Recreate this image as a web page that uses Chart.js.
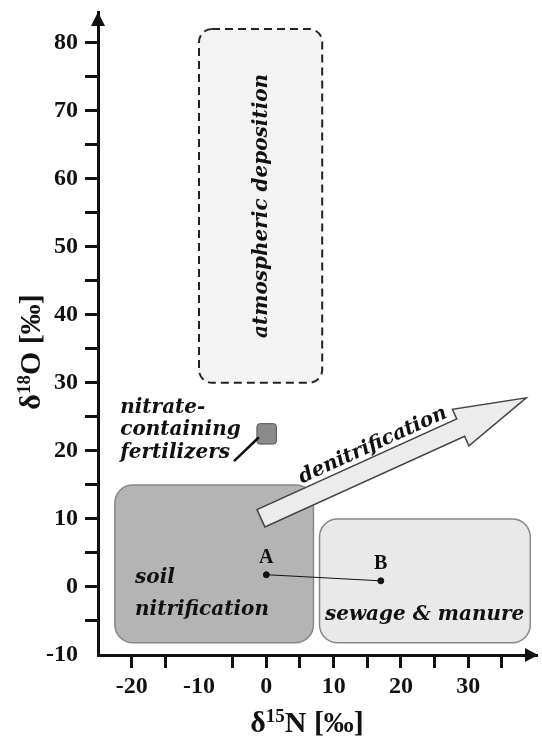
<!DOCTYPE html>
<html>
<head>
<meta charset="utf-8">
<script src="https://cdn.jsdelivr.net/npm/chart.js@4.4.0/dist/chart.umd.min.js"></script>
<style>
    html, body { margin: 0; padding: 0; background: #fff; }
    #wrap { width: 542px; height: 736px; }
</style>
</head>
<body>
<div id="wrap"><canvas id="chart"></canvas></div>
<script>
// Regiones de origen del nitrato (rangos de δ15N y δ18O, ‰)
const regionNames = ["atmospheric deposition", "soil nitrification", "sewage & manure", "nitrate-containing fertilizers"];
const regionX = [[-10, 8.3], [-22.5, 7], [7.9, 39.2], [-1.4, 1.5]];
const regionY = [[30, 82], [-8.2, 15], [-8.2, 10], [21, 24]];

// Muestras A y B
const sampleLabels = ["A", "B"];
const sampleX = [0, 17];
const sampleY = [1.8, 0.9];

// Flecha de desnitrificación (cola -> punta)
const arrowX = [-0.8, 38.6];
const arrowY = [10.1, 27.8];

// Línea que señala el cuadro de fertilizantes
const pointerX = [-1.1, -4.8];
const pointerY = [22, 18.5];

const xTicks = [-20, -15, -10, -5, 0, 5, 10, 15, 20, 25, 30, 35];
const yTicks = [-10, -5, 0, 5, 10, 15, 20, 25, 30, 35, 40, 45, 50, 55, 60, 65, 70, 75, 80];

// Estilos de cada región (mismo orden que regionNames)
const regionStyles = [
    { fill: "#f3f3f3", stroke: "#222", width: 2, dash: [8, 5], radius: 13 },
    { fill: "#b4b4b4", stroke: "#888", width: 1.5, dash: [], radius: 18 },
    { fill: "#e9e9e9", stroke: "#888", width: 1.5, dash: [], radius: 18 },
    { fill: "#8a8a8a", stroke: "#555", width: 1, dash: [], radius: 3 },
];

const serif = "'Liberation Serif', 'Times New Roman', serif";
const italicFont = "'DejaVu Serif', serif";

function roundRect(ctx, x0, y0, x1, y1, r) {
    ctx.beginPath();
    ctx.moveTo(x0 + r, y0);
    ctx.lineTo(x1 - r, y0);
    ctx.arcTo(x1, y0, x1, y0 + r, r);
    ctx.lineTo(x1, y1 - r);
    ctx.arcTo(x1, y1, x1 - r, y1, r);
    ctx.lineTo(x0 + r, y1);
    ctx.arcTo(x0, y1, x0, y1 - r, r);
    ctx.lineTo(x0, y0 + r);
    ctx.arcTo(x0, y0, x0 + r, y0, r);
    ctx.closePath();
}

// Texto con superíndice: "δ" + sup + resto
function drawSupText(ctx, pre, sup, post, size, supSize) {
    ctx.font = "bold " + size + "px " + serif;
    const w1 = ctx.measureText(pre).width;
    const w3 = ctx.measureText(post).width;
    ctx.font = "bold " + supSize + "px " + serif;
    const w2 = ctx.measureText(sup).width;
    let x = -(w1 + w2 + w3) / 2;
    ctx.textBaseline = "alphabetic";
    ctx.textAlign = "left";
    ctx.font = "bold " + size + "px " + serif;
    ctx.fillText(pre, x, 0);
    x += w1;
    ctx.font = "bold " + supSize + "px " + serif;
    ctx.fillText(sup, x, -size * 0.33);
    x += w2;
    ctx.font = "bold " + size + "px " + serif;
    ctx.fillText(post, x, 0);
}

const sketch = {
    id: "sketch",
    beforeDatasetsDraw(chart) {
        const { ctx, scales: { x, y } } = chart;
        ctx.save();

        // Cajas de las regiones
        regionNames.forEach((name, i) => {
            const s = regionStyles[i];
            const x0 = x.getPixelForValue(regionX[i][0]);
            const x1 = x.getPixelForValue(regionX[i][1]);
            const y0 = y.getPixelForValue(regionY[i][1]);
            const y1 = y.getPixelForValue(regionY[i][0]);
            roundRect(ctx, x0, y0, x1, y1, s.radius);
            ctx.fillStyle = s.fill;
            ctx.fill();
            ctx.setLineDash(s.dash);
            ctx.lineWidth = s.width;
            ctx.strokeStyle = s.stroke;
            ctx.stroke();
        });
        ctx.setLineDash([]);

        // Línea del cuadro de fertilizantes
        ctx.beginPath();
        ctx.moveTo(x.getPixelForValue(pointerX[0]), y.getPixelForValue(pointerY[0]));
        ctx.lineTo(x.getPixelForValue(pointerX[1]), y.getPixelForValue(pointerY[1]));
        ctx.lineWidth = 2.5;
        ctx.strokeStyle = "#111";
        ctx.stroke();

        // Flecha de desnitrificación
        const tx = x.getPixelForValue(arrowX[0]);
        const ty = y.getPixelForValue(arrowY[0]);
        const hx = x.getPixelForValue(arrowX[1]);
        const hy = y.getPixelForValue(arrowY[1]);
        const len = Math.hypot(hx - tx, hy - ty);
        const ux = (hx - tx) / len, uy = (hy - ty) / len;
        const nx = uy, ny = -ux; // normal hacia arriba
        const shaft = 9.5, head = 20, headLen = 72;
        const kx = hx - ux * headLen, ky = hy - uy * headLen;
        ctx.beginPath();
        ctx.moveTo(tx - nx * shaft, ty - ny * shaft);
        ctx.lineTo(tx + nx * shaft, ty + ny * shaft);
        ctx.lineTo(kx + nx * shaft, ky + ny * shaft);
        ctx.lineTo(kx + nx * head, ky + ny * head);
        ctx.lineTo(hx, hy);
        ctx.lineTo(kx - nx * head, ky - ny * head);
        ctx.lineTo(kx - nx * shaft, ky - ny * shaft);
        ctx.closePath();
        ctx.fillStyle = "#ececec";
        ctx.fill();
        ctx.lineWidth = 1.5;
        ctx.strokeStyle = "#444";
        ctx.stroke();

        ctx.fillStyle = "#111";
        ctx.save();
        ctx.translate(tx + ux * 132 + nx * 20, ty + uy * 132 + ny * 20);
        ctx.rotate(Math.atan2(uy, ux));
        ctx.font = "italic bold 20px " + italicFont;
        ctx.textAlign = "center";
        ctx.textBaseline = "middle";
        ctx.fillText("denitrification", 0, 0);
        ctx.restore();

        // Textos de las regiones
        ctx.font = "italic bold 20px " + italicFont;
        ctx.textAlign = "left";
        ctx.textBaseline = "middle";
        ctx.fillText("soil", x.getPixelForValue(-19.5), y.getPixelForValue(1.3));
        ctx.fillText("nitrification", x.getPixelForValue(-19.5), y.getPixelForValue(-3.4));
        ctx.fillText("sewage & manure", x.getPixelForValue(8.7), y.getPixelForValue(-4.1));
        ctx.fillText("nitrate-", x.getPixelForValue(-21.7), y.getPixelForValue(26.3));
        ctx.fillText("containing", x.getPixelForValue(-21.7), y.getPixelForValue(23.1));
        ctx.fillText("fertilizers", x.getPixelForValue(-21.7), y.getPixelForValue(19.7));

        ctx.save();
        ctx.translate(x.getPixelForValue(-0.7), y.getPixelForValue(56));
        ctx.rotate(-Math.PI / 2);
        ctx.textAlign = "center";
        ctx.fillText("atmospheric deposition", 0, 0);
        ctx.restore();

        ctx.restore();
    },
    afterDatasetsDraw(chart) {
        const { ctx, scales: { x, y } } = chart;
        ctx.save();
        ctx.fillStyle = "#111";
        ctx.font = "bold 20px " + serif;
        ctx.textAlign = "center";
        ctx.textBaseline = "middle";
        sampleLabels.forEach((lab, i) => {
            ctx.fillText(lab, x.getPixelForValue(sampleX[i]), y.getPixelForValue(sampleY[i]) - 17);
        });
        ctx.restore();
    },
    afterDraw(chart) {
        const { ctx, chartArea: a } = chart;
        ctx.save();
        ctx.fillStyle = "#111";
        // Puntas de flecha de los ejes
        ctx.beginPath();
        ctx.moveTo(a.left, a.top);
        ctx.lineTo(a.left - 7, a.top + 14);
        ctx.lineTo(a.left + 7, a.top + 14);
        ctx.closePath();
        ctx.fill();
        ctx.beginPath();
        ctx.moveTo(a.right + 1, a.bottom);
        ctx.lineTo(a.right - 12, a.bottom - 7);
        ctx.lineTo(a.right - 12, a.bottom + 7);
        ctx.closePath();
        ctx.fill();

        // Títulos de los ejes
        ctx.save();
        ctx.translate(307, 732);
        drawSupText(ctx, "δ", "15", "N [‰]", 30, 19);
        ctx.restore();
        ctx.save();
        ctx.translate(40, 352);
        ctx.rotate(-Math.PI / 2);
        drawSupText(ctx, "δ", "18", "O [‰]", 30, 19);
        ctx.restore();
        ctx.restore();
    },
};

function tickGrid() {
    return {
        display: true,
        drawOnChartArea: false,
        drawTicks: true,
        tickLength: 13,
        tickWidth: 3,
        tickColor: (c) => (c.tick && c.tick.value === -10 ? "rgba(0,0,0,0)" : "#111"),
    };
}

new Chart(document.getElementById("chart"), {
    type: "scatter",
    data: {
        datasets: [
            {
                data: sampleX.map((v, i) => ({ x: v, y: sampleY[i] })),
                showLine: true,
                borderColor: "#111",
                borderWidth: 1,
                pointRadius: 3,
                pointBackgroundColor: "#111",
                pointBorderColor: "#111",
            },
        ],
    },
    options: {
        responsive: true,
        maintainAspectRatio: false,
        animation: false,
        layout: { padding: { top: 12, right: 1, left: 0, bottom: 0 } },
        plugins: { legend: { display: false }, tooltip: { enabled: false } },
        scales: {
            x: {
                type: "linear",
                min: -25,
                max: 40.2,
                afterBuildTicks: (s) => { s.ticks = xTicks.map((v) => ({ value: v })); },
                afterFit: (s) => { s.height = 81; s.paddingLeft = 0; s.paddingRight = 0; },
                grid: tickGrid(),
                border: { display: true, width: 3, color: "#111" },
                ticks: {
                    color: "#111",
                    padding: 4,
                    maxRotation: 0,
                    autoSkip: false,
                    font: { family: serif, size: 24, weight: "bold" },
                    callback: (v) => (v % 10 === 0 ? String(v) : ""),
                },
            },
            y: {
                type: "linear",
                min: -10,
                max: 84.5,
                afterBuildTicks: (s) => { s.ticks = yTicks.map((v) => ({ value: v })); },
                afterFit: (s) => { s.width = 98; s.paddingTop = 0; s.paddingBottom = 0; },
                grid: tickGrid(),
                border: { display: true, width: 3, color: "#111" },
                ticks: {
                    color: "#111",
                    padding: 7,
                    autoSkip: false,
                    font: { family: serif, size: 24, weight: "bold" },
                    callback: (v) => (v % 10 === 0 ? String(v) : ""),
                },
            },
        },
    },
    plugins: [sketch],
});
</script>
</body>
</html>
